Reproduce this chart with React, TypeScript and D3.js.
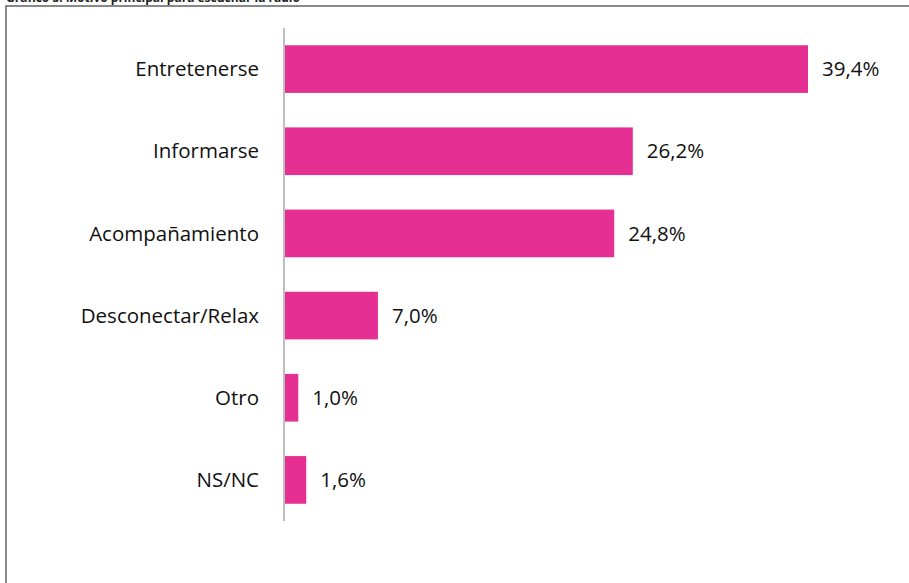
import React from "react";
import * as d3 from "d3";

const categories = ["Entretenerse", "Informarse", "Acompañamiento", "Desconectar/Relax", "Otro", "NS/NC"];
const values = [39.4, 26.2, 24.8, 7.0, 1.0, 1.6];
const title = "Gráfico 5. Motivo principal para escuchar la radio";

export default function App() {
  const W = 909, H = 583;
  const x = d3.scaleLinear().domain([0, 39.4]).range([285, 808]);
  const y = d3.scaleBand().domain(categories).range([28, 521]).paddingInner(0.42).paddingOuter(0.21);
  const fmt = (v: number) => v.toFixed(1).replace(".", ",") + "%";
  const font = "'Open Sans', sans-serif";
  return (
    <svg width={W} height={H} style={{ position: "absolute", left: 0, top: 0, background: "#fff" }}>
      <text x={6} y={2} fontFamily={font} fontWeight="bold" fontSize={12} fill="#222">{title}</text>
      <rect x={6} y={6} width={W} height={H} fill="none" stroke="#888" strokeWidth={2} />
      <line x1={284} x2={284} y1={28} y2={521} stroke="#aaa" strokeWidth={1.5} />
      {categories.map((c, i) => (
        <g key={c}>
          <rect x={x(0)} y={y(c)} width={x(values[i]) - x(0)} height={y.bandwidth()} fill="#E52F92" />
          <text x={259} y={y(c)! + y.bandwidth() / 2} dy="0.35em" textAnchor="end" fontFamily={font} fontSize={20.5} fill="#111">{c}</text>
          <text x={x(values[i]) + 14} y={y(c)! + y.bandwidth() / 2} dy="0.35em" fontFamily={font} fontSize={20.5} fill="#111">{fmt(values[i])}</text>
        </g>
      ))}
    </svg>
  );
}
